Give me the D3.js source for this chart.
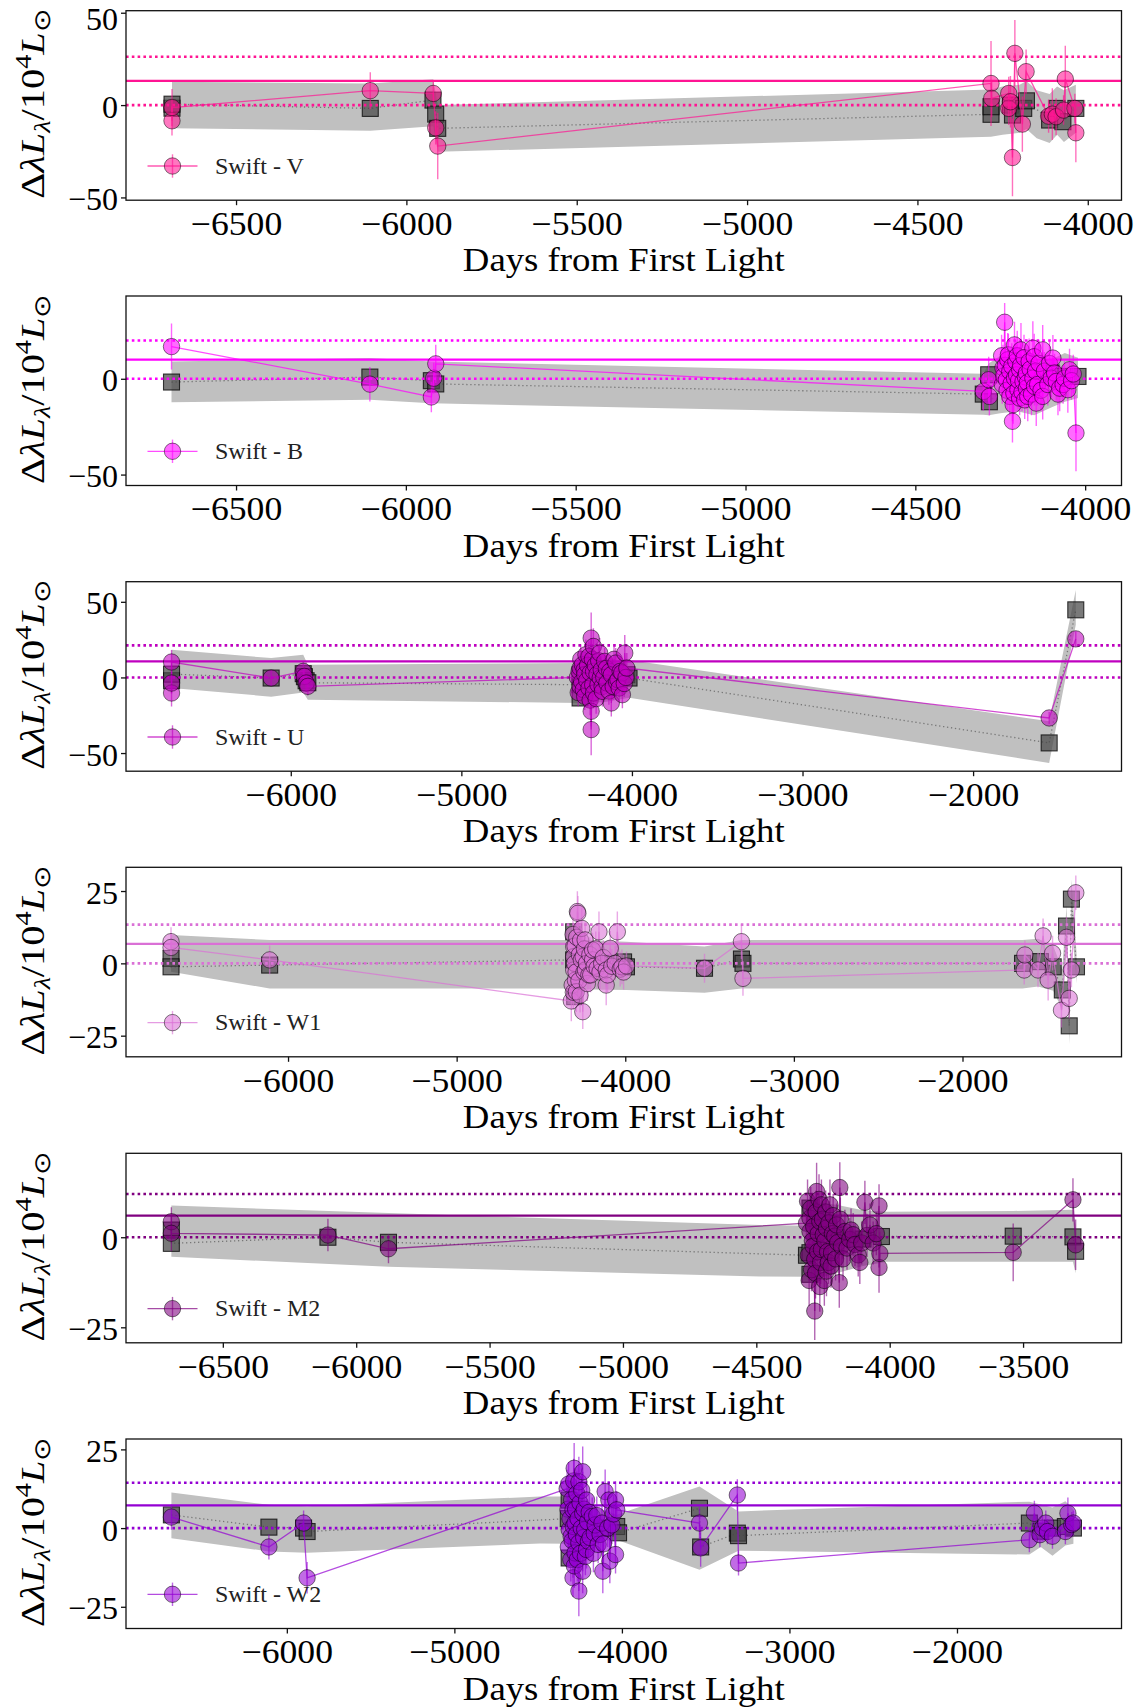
<!DOCTYPE html>
<html><head><meta charset="utf-8">
<script src="https://cdn.jsdelivr.net/npm/d3@7"></script>
<style>body{margin:0;background:#fff}svg{display:block}</style>
</head><body><svg id="c" width="1146" height="1707"></svg>
<script>
// ---------------- DATA ----------------
const bandNames = ["Swift - V","Swift - B","Swift - U","Swift - W1","Swift - M2","Swift - W2"];
const bandColors = ["#ff1493","#ff00ff","#bf00bf","#da70d6","#800080","#9400d3"];
const sigmas = [13.1, 10.0, 10.6, 6.7, 6.0, 7.2];
const xDomains = [[-6823,-3901],[-6824,-3893],[-6966,-1130],[-6961,-1057],[-6863,-3131],[-6960,-1018]];
const yDomains = [[-51.5,51.1],[-55.7,43.2],[-62,63.3],[-32.3,33.2],[-29.3,23.3],[-31.9,28.3]];
const xTicks = [[-6500,-6000,-5500,-5000,-4500,-4000],[-6500,-6000,-5500,-5000,-4500,-4000],
  [-6000,-5000,-4000,-3000,-2000],[-6000,-5000,-4000,-3000,-2000],
  [-6500,-6000,-5500,-5000,-4500,-4000,-3500],[-6000,-5000,-4000,-3000,-2000]];
const yTicks = [[-50,0,50],[-50,0],[-50,0,50],[-25,0,25],[-25,0],[-25,0,25]];

// observations: [day, value, error]
const obsV = [[-6688,-8.5,8],[-6688,-1.3,10],[-6106,7.8,10],[-5921,6.3,7],[-5914,-12.3,9],[-5908,-22.2,18],
 [-4284,11.7,23],[-4282,3.6,10],[-4232,6.3,9],[-4232,-1.8,9],[-4227,1.8,14],[-4221,-28.4,21],[-4214,28.0,18],
 [-4192,-10.3,15],[-4181,18.1,12],[-4115,-6.0,9],[-4104,-4.9,14],[-4093,-6.3,10],[-4071,-2.7,8],[-4066,14.1,18],
 [-4038,-1.8,8],[-4035,-15.0,16]];
// model at observation times: [day, value]
const modV = [[-6688,-1.7],[-6688,0.5],[-6106,-1.8],[-5922,2.7],[-5914,-4.9],[-5908,-12.6],[-4284,-5.0],[-4284,-0.9],
 [-4227,0],[-4221,-5.4],[-4188,-1.8],[-4180,2.3],[-4112,-8.1],[-4090,-1.8],[-4073,-9.0],[-4035,-1.8]];
// model band: [day, low, high]
const bandV = [[-6688,-12.6,12.6],[-6106,-13.9,11.7],[-5921,-11.4,14],[-5908,-25.3,0],[-4284,-17.2,8.5],[-4250,-16,10],
 [-4200,-15,11],[-4180,-13,13],[-4150,-18,8],[-4112,-20.5,6],[-4090,-16,10],[-4070,-20,8],[-4035,-15,11]];

const obsB = [[-6690,16.8,12],[-6106,-2.8,9],[-5925,-9.5,8],[-5918,0.3,8],[-5912,7.8,10],
 [-4300,-6.6,10],[-4284,-0.5,12],[-4282,-9.2,10],[-4246,12.0,11],[-4244,-3.0,10],[-4242,5.7,12],[-4240,1.5,10],
 [-4237,29.5,10],[-4235,7.0,12],[-4232,-0.5,9],[-4230,-6.0,10],[-4228,9.9,14],[-4226,12.5,11],[-4222,3.8,11],
 [-4222,-9.2,10],[-4218,-2.5,10],[-4216,6.5,12],[-4214,-22.2,11],[-4212,-13.5,10],[-4210,-7.5,11],[-4208,17.7,12],
 [-4208,0.3,10],[-4204,9.0,11],[-4202,2.0,10],[-4200,12.0,13],[-4198,-5.7,10],[-4196,-1.0,10],[-4193,4.7,12],
 [-4193,-10.1,9],[-4190,7.0,11],[-4189,15.1,14],[-4186,-7.0,10],[-4183,-1.4,10],[-4180,11.0,12],[-4178,-11.0,10],
 [-4176,1.0,10],[-4173,3.0,12],[-4173,-4.9,11],[-4170,-2.0,11],[-4169,-9.2,13],[-4165,9.0,12],[-4162,5.0,10],
 [-4158,-8.0,11],[-4154,16.0,14],[-4154,0.3,11],[-4150,11.5,12],[-4149,-4.0,10],[-4146,4.0,10],[-4144,-12.7,12],
 [-4140,-3.0,11],[-4136,8.0,12],[-4130,-6.0,11],[-4125,15.1,13],[-4125,-9.2,12],[-4120,4.0,10],[-4110,-3.0,11],
 [-4105,8.0,12],[-4100,0.3,10],[-4095,10.8,12],[-4090,3.0,10],[-4085,-1.4,10],[-4080,-8.0,11],[-4075,-4.9,12],
 [-4065,-3.0,10],[-4061,0.3,9],[-4051,-5.7,12],[-4046,4.7,11],[-4040,-1.0,10],[-4035,2.5,10],[-4027,-28.3,20]];
const modB = [[-6690,-1.7],[-6106,0.9],[-5925,-1.0],[-5912,-2.7],[-4300,-8],[-4284,2.1],[-4282,-12],[-4200,2],
 [-4120,1],[-4100,3],[-4075,1.2],[-4021,1.2]];
const bandB = [[-6690,-12.3,9.0],[-6106,-10.9,10.8],[-5925,-12.8,9.0],[-4300,-18.8,2.6],[-4284,-19,8],[-4250,-18,12],
 [-4200,-17,10],[-4150,-19,9],[-4100,-15,10],[-4060,-12,13.5],[-4021,-10,11]];

const obsU = [[-6699,-10.3,9],[-6699,-3.7,7],[-6699,10.2,8],[-6115,-0.4,5],[-5927,4.0,6],[-5920,0.7,5],[-5910,-3.7,6],
 [-5900,-5.9,6],[-4320,0,9],[-4315,-10,9],[-4310,4,9],[-4304,6.2,9],[-4304,-5.9,10],[-4300,12,10],[-4295,-3,9],
 [-4291,8.4,9],[-4285,-8,9],[-4280,5,10],[-4277,1.8,10],[-4277,-12.5,9],[-4270,15,10],[-4265,-2,9],[-4260,8,9],
 [-4252,13.9,10],[-4252,-7.0,10],[-4245,-15,10],[-4245,3,9],[-4239,26.0,17],[-4239,-22.4,10],[-4239,-34.5,17],
 [-4232,12,10],[-4230,-5,9],[-4226,20.5,12],[-4225,4.0,9],[-4225,-10.3,10],[-4215,8,9],[-4210,-14,10],[-4205,2,9],
 [-4199,-4.8,9],[-4195,11,10],[-4189,16.1,10],[-4186,-0.4,8],[-4180,5,9],[-4175,-6,9],[-4173,-9.2,10],[-4165,0,9],
 [-4160,10.6,9],[-4150,6,9],[-4147,-3.7,8],[-4135,-9,9],[-4130,4,9],[-4121,1.8,10],[-4121,-16.9,9],[-4110,-6,9],
 [-4105,12,10],[-4095,9.5,10],[-4090,-3,9],[-4082,-1.5,9],[-4075,-7,9],[-4069,4.0,10],[-4060,3,9],[-4056,-11.4,9],
 [-4045,-4,9],[-4042,16.1,12],[-4035,0,9],[-4030,6.2,10],
 [-1554,-26.8,4],[-1398,25.5,5]];
const modU = [[-6699,-2.2],[-6699,2.2],[-6115,-0.4],[-5927,2.5],[-5920,0.5],[-5910,-2.2],[-5900,-3.5],[-4304,-4.8],
 [-4304,-13.6],[-4304,1.8],[-4200,-2],[-4100,-1],[-4030,1.8],[-4017,-0.4],[-1554,-43.3],[-1398,44.7]];
const bandU = [[-6699,-7,18.3],[-6115,-12.7,12.8],[-5927,-10,15],[-5900,-14.7,8.4],[-4304,-16.9,9.5],[-4250,-17,9],
 [-4150,-16,10],[-4017,-13.5,11.5],[-1554,-56.5,-29],[-1398,34.8,57.8]];

const obsW1 = [[-6694,7.5,5],[-6694,5.5,5],[-6109,1.2,5],
 [-4320,-13.0,7],[-4315,-7.5,6],[-4310,10,6],[-4308,-10,6],[-4306,5.8,6],[-4306,2.3,6],[-4306,-2.3,6],[-4300,0,6],
 [-4298,6,6],[-4296,-5.8,6],[-4292,-3,6],[-4290,-9.8,7],[-4288,9,6],[-4284,17.9,7],[-4281,17.3,6],[-4275,-6,6],
 [-4272,3,6],[-4268,-11,6],[-4265,8,6],[-4261,1.2,6],[-4258,12.1,7],[-4252,-16.7,6],[-4250,2.3,6],[-4245,-3,6],
 [-4242,5,6],[-4238,8.1,6],[-4236,-2.3,6],[-4230,0,6],[-4225,-7,6],[-4216,-4.0,6],[-4210,3,6],[-4205,-4,6],
 [-4194,1.2,6],[-4194,4.6,6],[-4185,-1,6],[-4175,5,6],[-4167,-1.7,7],[-4156,10.9,7],[-4150,-3,6],[-4140,0,6],
 [-4130,2,6],[-4113,-2.3,6],[-4113,-7.5,7],[-4105,-4,6],[-4089,5.2,6],[-4080,-1,6],[-4060,0,6],[-4047,10.9,7],
 [-4030,-2,6],[-4020,-1.2,6],[-4010,-3,6],[-3993,-0.9,5],
 [-3530,-1.7,5],[-3311,7.5,6],[-3302,-5.2,6],
 [-1634,-2.3,5],[-1630,2.9,5],[-1552,-2.3,6],[-1522,9.5,6],[-1492,-5.8,7],[-1466,3.5,6],[-1413,-16.2,6],
 [-1383,9.0,7],[-1367,-12.1,7],[-1354,-2.3,6],[-1328,24.4,6]];
const modW1 = [[-6694,1.7],[-6694,-1.2],[-6109,-0.6],[-4306,1.2],[-4306,10.9],[-4300,-11.5],[-4200,-1],[-4100,0],
 [-4010,0.5],[-3993,-1.2],[-3530,-1.7],[-3311,1.5],[-3302,0],[-1644,0],[-1538,0.6],[-1462,-1.2],[-1408,-9.2],
 [-1383,12.9],[-1367,-21.6],[-1354,22.2],[-1324,-1.2]];
const bandW1 = [[-6694,-2.9,9.8],[-6109,-8.7,8.1],[-4306,-8.7,8.1],[-4200,-9,8],[-3993,-9.2,7.5],[-3530,-10.2,5.8],
 [-3311,-8.7,8.1],[-1644,-8.7,8.1],[-1552,-8,8.5],[-1462,-9.5,6],[-1408,-16,-2],[-1383,5,20],[-1367,-28,-14],
 [-1354,15,29],[-1324,-7,4]];

const obsM2 = [[-6693,4.3,4],[-6693,1.1,5],[-6106,0.6,4.5],[-5879,-3.2,4],
 [-4312,3.9,5],[-4308,10,6],[-4305,-5,6],[-4302,-12,7],[-4299,5.3,6],[-4299,1.6,6],[-4296,8,6],[-4293,-9.0,6],
 [-4290,-1,6],[-4287,-2.5,7],[-4285,3,6],[-4281,-20.5,8],[-4281,-6.1,6],[-4278,-10,7],[-4276,7,6],[-4274,12.7,8],
 [-4270,-4,6],[-4268,1,6],[-4265,10.5,7],[-4262,-13.7,7],[-4262,4.4,6],[-4259,-7,6],[-4256,9.0,7],[-4256,-3.4,6],
 [-4252,5,6],[-4249,0.7,6],[-4245,-12,7],[-4243,-1,6],[-4240,7,6],[-4237,2.5,6],[-4237,-9.4,7],[-4233,-4,6],
 [-4230,-7.0,6],[-4228,4,6],[-4224,9.0,7],[-4220,-8,6],[-4218,-4.3,6],[-4215,1,6],[-4212,6,6],[-4206,0.3,6],
 [-4203,-6,6],[-4199,3.4,6],[-4195,-1.5,6],[-4189,-12.6,7],[-4187,13.8,7],[-4185,5,6],[-4181,-2.5,6],[-4175,-6,6],
 [-4168,1.6,6],[-4160,-3,6],[-4150,-0.6,6],[-4145,2,6],[-4137,0.7,6],[-4130,-2,6],[-4118,-4.9,6],[-4112,-7,6],
 [-4105,-1.6,6],[-4093,9.7,6],[-4085,0.5,6],[-4074,3.4,6],[-4062,-1.6,6],[-4050,1,6],[-4040,8.7,6],[-4040,-8.4,7],
 [-4037,-4.5,6],
 [-3537,-4.2,8],[-3313,10.4,6],[-3303,-2.1,7]];
const modM2 = [[-6693,2.0],[-6693,-1.7],[-6106,0],[-5879,-1.4],[-4312,-5],[-4299,8.1],[-4299,-4.3],[-4299,-10.3],
 [-4200,0],[-4100,-0.5],[-4031,0.2],[-3537,0.3],[-3313,0.1],[-3303,-3.9]];
const bandM2 = [[-6693,-5.4,8.8],[-5879,-8.2,6.7],[-4487,-10.9,3.4],[-4312,-11,3.2],[-4300,-12,10],[-4200,-10,9],
 [-4100,-8,7.5],[-4012,-6.8,7.1],[-3537,-6.8,7.3],[-3313,-6.8,7.6],[-3303,-10,3.5]];

const obsW2 = [[-6689,3.5,4],[-6107,-6.0,4],[-5900,1.6,4],[-5879,-15.8,5],
 [-4327,12.5,6],[-4322,6,6],[-4320,-6,6],[-4318,14,7],[-4315,-0.5,6],[-4310,3,6],[-4305,-10,7],[-4303,-2.6,6],
 [-4300,9,6],[-4297,-4,6],[-4292,5.8,6],[-4292,-15.8,6],[-4290,0.5,6],[-4288,15,7],[-4285,19.0,8],[-4284,-12,7],
 [-4280,1.6,6],[-4280,-7.9,7],[-4276,6,6],[-4272,-2,6],[-4269,11.0,7],[-4266,-10,7],[-4262,3,6],[-4257,14.7,8],
 [-4257,-4.7,6],[-4257,-20.0,8],[-4250,8,6],[-4247,-8,6],[-4243,0,6],[-4240,12,7],[-4234,17.9,8],[-4234,4.7,6],
 [-4234,-13.7,7],[-4228,-3,6],[-4225,6,6],[-4222,-0.5,6],[-4218,-9,6],[-4211,8.9,6],[-4211,-6.8,6],[-4205,2,6],
 [-4200,-4.2,6],[-4195,5,6],[-4190,-3,6],[-4177,3.7,6],[-4170,-8,6],[-4165,-1.6,6],[-4160,1,6],[-4150,4,6],
 [-4142,-5.2,6],[-4130,-2,6],[-4119,1.6,6],[-4114,-13.7,7],[-4110,-5,6],[-4100,11.6,7],[-4085,0,6],[-4078,8.9,6],
 [-4072,-10.5,7],[-4060,1,6],[-4050,4.5,6],[-4038,-8.4,6],[-4038,8.9,6],[-4031,5.8,6],
 [-3537,1.6,5],[-3530,-6.3,6],[-3311,10.5,5],[-3304,-11.1,4],
 [-1568,-3.7,4],[-1538,4.7,4],[-1505,-2.1,4],[-1490,0,4],[-1470,1.6,4],[-1460,-1.1,4],[-1430,-2.6,4],[-1353,-1.1,4],
 [-1338,4.7,5],[-1315,1.1,4],[-1305,1.6,4]];
const modW2 = [[-6689,4.2],[-6107,0.3],[-5900,0],[-5879,-1.1],[-4320,3],[-4315,8.9],[-4315,-9.5],[-4200,0],[-4100,0],
 [-4031,0.5],[-4020,-1.5],[-3537,6.3],[-3530,-6.0],[-3311,-1.6],[-3304,-2.4],[-1568,1.6],[-1500,-1],[-1430,0],
 [-1353,0.5],[-1305,0]];
const bandW2 = [[-6689,-3.2,11.3],[-6107,-7.4,7.4],[-5879,-7.8,6.9],[-4488,-4.9,10],[-4330,-5,10],[-4031,-3.7,4.2],
 [-3537,-13.2,13.2],[-3304,-7.2,5.3],[-1568,-8.4,8.4],[-1500,-6,7.5],[-1430,-8.8,6.5],[-1353,-5.5,8.5],[-1305,-5,6]];

const xTitle = "Days from First Light";

// ---------------- DRAW ----------------
const byDay = (a, b) => a[0] - b[0];
const obsAll = [obsV, obsB, obsU, obsW1, obsM2, obsW2].map(o => o.slice().sort(byDay));
const modAll = [modV, modB, modU, modW1, modM2, modW2];
const bandAll = [bandV, bandB, bandU, bandW1, bandM2, bandW2];

const svg = d3.select("#c");
const L = 126, R = 1121.5, PH = 189.5;
const tops = [10.7, 296, 581.7, 867.3, 1153.3, 1439];
const FONT = "'Liberation Serif','Times New Roman',serif";
const fmt = v => v < 0 ? "\u2212" + Math.abs(v) : String(v);

bandNames.forEach((name, i) => {
  const top = tops[i], bot = top + PH, col = bandColors[i];
  const x = d3.scaleLinear().domain(xDomains[i]).range([L, R]);
  const y = d3.scaleLinear().domain(yDomains[i]).range([bot, top]);
  const g = svg.append("g");
  const cid = "clip" + i;
  svg.append("clipPath").attr("id", cid).append("rect")
    .attr("x", L).attr("y", top).attr("width", R - L).attr("height", PH);
  const dg = g.append("g").attr("clip-path", `url(#${cid})`);

  // model band
  dg.append("path").datum(bandAll[i])
    .attr("d", d3.area().x(a => x(a[0])).y0(a => y(a[1])).y1(a => y(a[2])))
    .attr("fill", "#c0c0c0");
  // model dotted line
  dg.append("path").datum(modAll[i])
    .attr("d", d3.line().x(a => x(a[0])).y(a => y(a[1])))
    .attr("fill", "none").attr("stroke", "#777").attr("stroke-width", 1.3)
    .attr("stroke-dasharray", "1.3,2.7");
  // model squares
  dg.selectAll("rect.sq").data(modAll[i]).join("rect").attr("class", "sq")
    .attr("x", a => x(a[0]) - 8).attr("y", a => y(a[1]) - 8)
    .attr("width", 16).attr("height", 16)
    .attr("fill", "#474747").attr("fill-opacity", 0.72)
    .attr("stroke", "#000").attr("stroke-opacity", 0.75).attr("stroke-width", 1.1);
  // horizontal reference lines
  const s = sigmas[i];
  [[0, true], [2 * s, true], [s, false]].forEach(([v, dotted]) => {
    dg.append("line").attr("x1", L).attr("x2", R).attr("y1", y(v)).attr("y2", y(v))
      .attr("stroke", col).attr("stroke-width", dotted ? 2.6 : 2.2)
      .attr("stroke-dasharray", dotted ? "2.6,3.2" : null);
  });
  // error bars
  dg.selectAll("line.err").data(obsAll[i]).join("line").attr("class", "err")
    .attr("x1", a => x(a[0])).attr("x2", a => x(a[0]))
    .attr("y1", a => y(a[1] - a[2])).attr("y2", a => y(a[1] + a[2]))
    .attr("stroke", col).attr("stroke-opacity", 0.6).attr("stroke-width", 1.4);
  // connecting line
  dg.append("path").datum(obsAll[i])
    .attr("d", d3.line().x(a => x(a[0])).y(a => y(a[1])))
    .attr("fill", "none").attr("stroke", col).attr("stroke-opacity", 0.7).attr("stroke-width", 1.3);
  // observation circles
  dg.selectAll("circle.ob").data(obsAll[i]).join("circle").attr("class", "ob")
    .attr("cx", a => x(a[0])).attr("cy", a => y(a[1])).attr("r", 8.2)
    .attr("fill", col).attr("fill-opacity", 0.58)
    .attr("stroke", "#000").attr("stroke-opacity", 0.5).attr("stroke-width", 1);

  // frame
  g.append("rect").attr("x", L).attr("y", top).attr("width", R - L).attr("height", PH)
    .attr("fill", "none").attr("stroke", "#111").attr("stroke-width", 1.3);

  // axes
  const ax = g.append("g").attr("transform", `translate(0,${bot})`)
    .call(d3.axisBottom(x).tickValues(xTicks[i]).tickSize(5).tickPadding(6.5).tickFormat(fmt));
  const ay = g.append("g").attr("transform", `translate(${L},0)`)
    .call(d3.axisLeft(y).tickValues(yTicks[i]).tickSize(5).tickPadding(3).tickFormat(fmt));
  [ax, ay].forEach(a => {
    a.select(".domain").remove();
    a.selectAll(".tick line").attr("stroke", "#111").attr("stroke-width", 1.3);
    a.selectAll(".tick text").attr("font-family", FONT).attr("fill", "#000");
  });
  ax.selectAll(".tick text").attr("font-size", 33).attr("transform", "scale(1.08,1)");
  ay.selectAll(".tick text").attr("font-size", 32).attr("dy", "0.38em");
  // keep every tick label fully inside the picture
  ay.selectAll(".tick text").each(function () {
    const bb = this.getBoundingClientRect();
    if (bb.top < 0.5) d3.select(this).attr("y", 0.5 - bb.top);
  });

  // x title
  const xt = g.append("text").attr("font-family", FONT).attr("font-size", 33)
    .attr("text-anchor", "middle").text(xTitle);
  const wx = xt.node().getComputedTextLength();
  xt.attr("transform", `translate(${(L + R) / 2},${bot + 71}) scale(${322 / wx},1)`);

  // y title
  const yt = g.append("text").attr("font-family", FONT).attr("font-size", 33).attr("text-anchor", "middle");
  yt.append("tspan").text("\u0394");
  yt.append("tspan").attr("font-style", "italic").text("\u03bbL");
  yt.append("tspan").attr("font-style", "italic").attr("font-size", 23).attr("dy", 6).text("\u03bb");
  yt.append("tspan").attr("dy", -6).text("/10");
  yt.append("tspan").attr("font-size", 23).attr("dy", -13).text("4");
  yt.append("tspan").attr("font-style", "italic").attr("dy", 13).text("L");
  yt.append("tspan").attr("font-size", 23).attr("dy", 6).text("\u2299");
  const wy = yt.node().getComputedTextLength();
  yt.attr("transform", `translate(44,${(top + bot) / 2 - 2}) rotate(-90) scale(${190 / wy},1)`);

  // legend
  const ly = top + 155.3, lx = 172.5;
  const lg = g.append("g");
  lg.append("line").attr("x1", lx - 25).attr("x2", lx + 25).attr("y1", ly).attr("y2", ly)
    .attr("stroke", col).attr("stroke-opacity", 0.7).attr("stroke-width", 1.3);
  lg.append("line").attr("x1", lx).attr("x2", lx).attr("y1", ly - 11.7).attr("y2", ly + 11.7)
    .attr("stroke", col).attr("stroke-opacity", 0.6).attr("stroke-width", 1.4);
  lg.append("circle").attr("cx", lx).attr("cy", ly).attr("r", 8.2)
    .attr("fill", col).attr("fill-opacity", 0.58)
    .attr("stroke", "#000").attr("stroke-opacity", 0.5).attr("stroke-width", 1);
  lg.append("text").attr("x", 215).attr("y", ly + 7.5).attr("font-family", FONT)
    .attr("font-size", 24).attr("fill", "#222").text(name);
});
</script>
</body></html>
